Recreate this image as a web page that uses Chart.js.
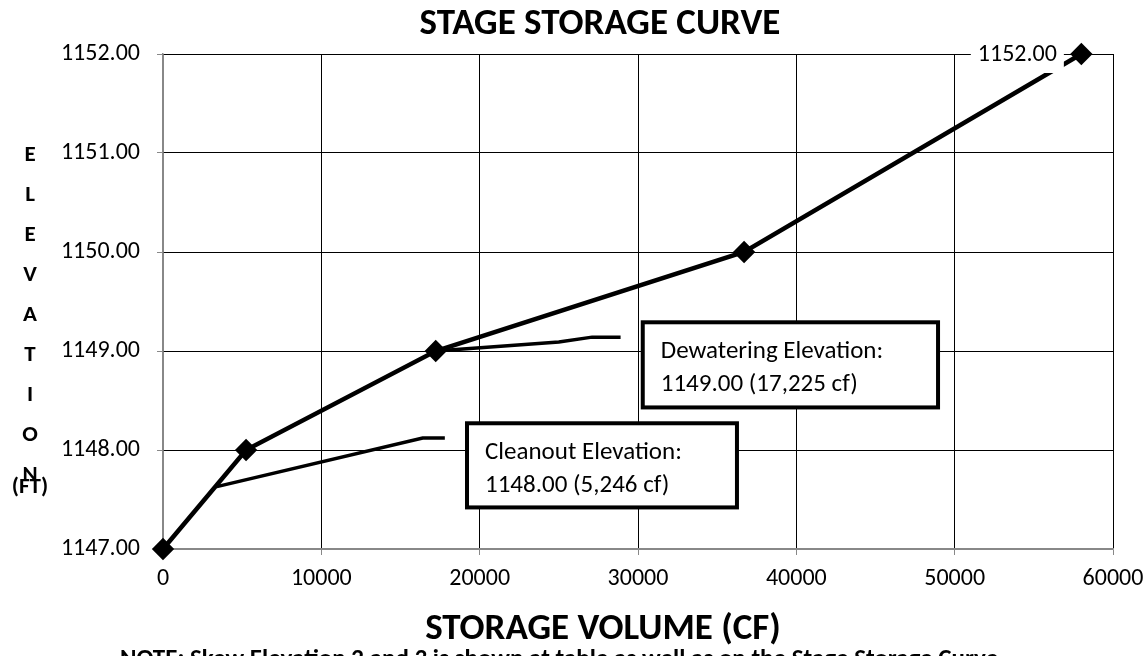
<!DOCTYPE html>
<html>
<head>
<meta charset="utf-8">
<script src="https://cdn.jsdelivr.net/npm/chart.js@4/dist/chart.umd.min.js"></script>
<style>
  html, body { margin: 0; padding: 0; background: #fff; }
  #wrap { width: 1144px; height: 656px; }
</style>
</head>
<body>
<div id="wrap"><canvas id="stageChart" width="1144" height="656"></canvas></div>
<script>
  // Stage storage data (volume in cf, elevation in ft)
  const volumes = [0, 5246, 17225, 36700, 58000];
  const elevations = [1147, 1148, 1149, 1150, 1152];

  // leader lines for the callouts
  const cleanoutLeaderX = [3400, 16400, 17800];
  const cleanoutLeaderY = [1147.63, 1148.12, 1148.12];
  const dewaterLeaderX = [17225, 25000, 27100, 28900];
  const dewaterLeaderY = [1149.0, 1149.09, 1149.14, 1149.14];

  const calloutText = [
    ["Cleanout Elevation:", "1148.00 (5,246 cf)"],
    ["Dewatering Elevation:", "1149.00 (17,225 cf)"]
  ];
  const yTitleLetters = ["E", "L", "E", "V", "A", "T", "I", "O", "N"];

  const FONT = "Carlito, Lato, sans-serif";

  function toPoints(xs, ys) {
    return xs.map((x, i) => ({ x: x, y: ys[i] }));
  }

  // callout boxes placed in data units
  const boxes = [
    { x1: 19200, x2: 36250, y1: 1148.27, y2: 1147.42, lines: calloutText[0] },
    { x1: 30300, x2: 48950, y1: 1149.29, y2: 1148.43, lines: calloutText[1] }
  ];

  const decorPlugin = {
    id: 'decor',
    afterDatasetsDraw(chart) {
      const c = chart.ctx;
      const xs = chart.scales.x, ys = chart.scales.y;
      c.save();

      // callout boxes
      boxes.forEach(b => {
        const l = xs.getPixelForValue(b.x1), r = xs.getPixelForValue(b.x2);
        const t = ys.getPixelForValue(b.y1), bt = ys.getPixelForValue(b.y2);
        c.fillStyle = '#fff';
        c.fillRect(l, t, r - l, bt - t);
        c.lineWidth = 4;
        c.strokeStyle = '#000';
        c.strokeRect(l, t, r - l, bt - t);
        c.fillStyle = '#000';
        c.font = '25px ' + FONT;
        c.textAlign = 'left';
        c.textBaseline = 'alphabetic';
        c.fillText(b.lines[0], l + 18, t + 36);
        c.fillText(b.lines[1], l + 18, t + 69);
      });

      // value label next to last point
      const last = volumes.length - 1;
      const px = xs.getPixelForValue(volumes[last]);
      const py = ys.getPixelForValue(elevations[last]);
      const label = elevations[last].toFixed(2);
      c.font = '24px ' + FONT;
      const w = c.measureText(label).width;
      const cx = px - 64;
      c.fillStyle = '#fff';
      c.fillRect(cx - w / 2 - 7, py - 17, w + 14, 36);
      c.fillStyle = '#000';
      c.textAlign = 'center';
      c.textBaseline = 'middle';
      c.fillText(label, cx, py + 1);

      c.restore();
    },
    afterDraw(chart) {
      const c = chart.ctx;
      c.save();
      c.fillStyle = '#000';
      c.textAlign = 'center';
      c.textBaseline = 'middle';

      c.font = 'bold 37px ' + FONT;
      c.fillText('STAGE STORAGE CURVE', 600, 25);
      c.fillText('STORAGE VOLUME (CF)', 603, 630);

      c.font = 'bold 23px ' + FONT;
      yTitleLetters.forEach((ch, i) => {
        c.fillText(ch, 30, 155 + i * 40);
      });
      c.fillText('(FT)', 30, 487);

      c.font = 'bold 25px ' + FONT;
      c.textAlign = 'left';
      c.fillText('NOTE: Skew Elevation 2 and 3 is shown at table as well as on the Stage Storage Curve', 120, 660);
      c.restore();
    }
  };

  const ctx = document.getElementById('stageChart').getContext('2d');
  new Chart(ctx, {
    type: 'line',
    data: {
      datasets: [
        {
          label: 'Stage Storage',
          data: toPoints(volumes, elevations),
          borderColor: '#000',
          backgroundColor: '#000',
          borderWidth: 4.5,
          pointStyle: 'rectRot',
          pointRadius: 8,
          pointHoverRadius: 8,
          tension: 0,
          clip: false,
          order: 1
        },
        {
          label: 'cleanout leader',
          data: toPoints(cleanoutLeaderX, cleanoutLeaderY),
          borderColor: '#000',
          borderWidth: 3.5,
          pointRadius: 0,
          tension: 0,
          order: 2
        },
        {
          label: 'dewater leader',
          data: toPoints(dewaterLeaderX, dewaterLeaderY),
          borderColor: '#000',
          borderWidth: 3.5,
          pointRadius: 0,
          tension: 0,
          order: 2
        }
      ]
    },
    options: {
      responsive: false,
      animation: false,
      layout: { padding: { top: 54, right: 31, left: 0, bottom: 0 } },
      plugins: {
        legend: { display: false },
        tooltip: { enabled: false },
        title: { display: false }
      },
      scales: {
        x: {
          type: 'linear',
          min: 0,
          max: 60000,
          ticks: {
            stepSize: 10000,
            color: '#000',
            padding: 10,
            font: { family: FONT, size: 24 },
            maxRotation: 0,
            callback: v => String(v)
          },
          grid: {
            color: c => c.tick && c.tick.value === 0 ? '#888' : '#000',
            tickColor: '#888',
            tickLength: 6,
            lineWidth: 1
          },
          border: { color: '#888', width: 1.5 },
          afterFit: s => { s.height = 107; s.paddingRight = 0; s.paddingLeft = 0; }
        },
        y: {
          min: 1147,
          max: 1152,
          ticks: {
            stepSize: 1,
            color: '#000',
            padding: 17,
            font: { family: FONT, size: 24 },
            callback: v => Number(v).toFixed(2)
          },
          grid: {
            color: c => c.tick && c.tick.value === 1147 ? '#888' : '#000',
            tickColor: '#888',
            tickLength: 6,
            lineWidth: 1
          },
          border: { color: '#888', width: 1.5 },
          afterFit: s => { s.width = 163; s.paddingTop = 0; s.paddingBottom = 0; }
        }
      }
    },
    plugins: [decorPlugin]
  });
</script>
</body>
</html>
